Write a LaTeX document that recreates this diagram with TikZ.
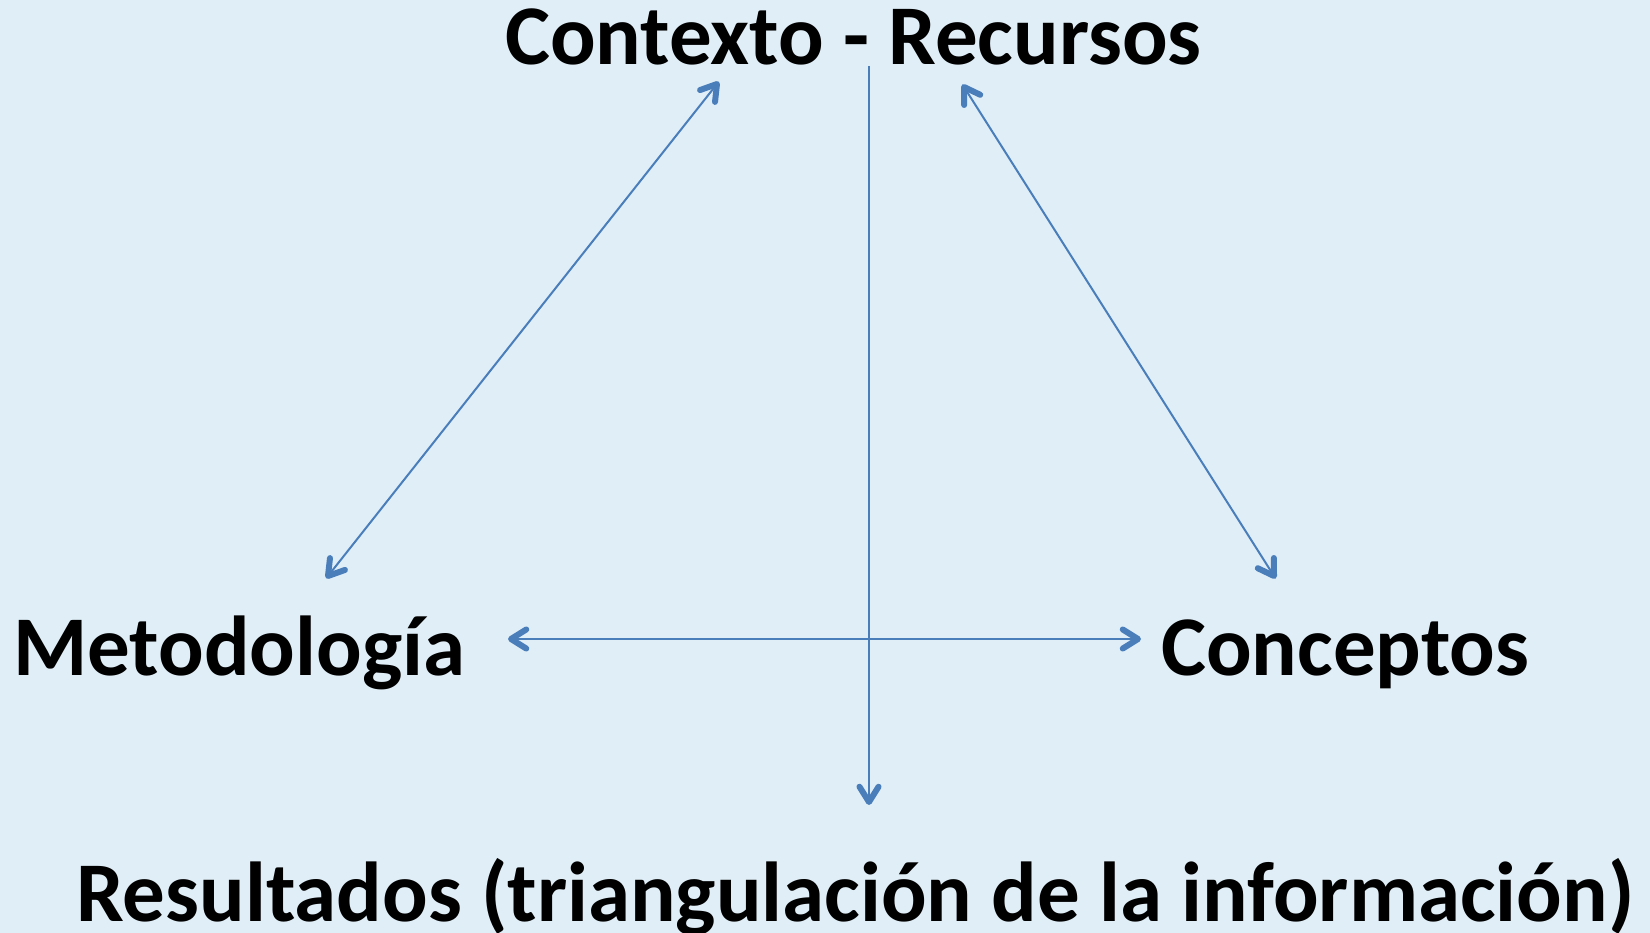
\documentclass[tikz,border=0pt]{standalone}
\usepackage{fontspec}
\setmainfont{Carlito}
\usetikzlibrary{calc}
\definecolor{bgblue}{RGB}{224,238,247}
\definecolor{linkblue}{RGB}{74,126,187}
\newcommand\barbhead[2]{\draw[headstroke] ($(#1)!18pt!32:(#2)$) -- (#1) -- ($(#1)!18pt!-32:(#2)$);}
\begin{document}
\begin{tikzpicture}[x=1pt,y=-1pt,
  lbl/.style={anchor=base west,inner sep=0pt,font=\fontsize{85}{100}\selectfont\bfseries},
  link/.style={draw=linkblue,line width=2pt},
  headstroke/.style={draw=linkblue,line width=6pt,line cap=round,line join=round}]
\fill[bgblue] (0,0) rectangle (1650,933);
\useasboundingbox (0,0) rectangle (1650,933);
\node[lbl] (ctx) at (505,65) {Contexto - Recursos};
\node[lbl] (met) at (13,675) {Metodología};
\node[lbl] (con) at (1161,675) {Conceptos};
\node[lbl] (res) at (76,921) {Resultados (triangulación de la información)};
\coordinate (vtop) at (869,66);
\coordinate (vbot) at (869,802);
\coordinate (lt) at (717,84);
\coordinate (lb) at (328,576);
\coordinate (rt) at (964,87);
\coordinate (rb) at (1274,576);
\coordinate (hl) at (511,639);
\coordinate (hr) at (1138,639);
\draw[link] (vtop) -- (vbot);
\draw[link] (lt) -- (lb);
\draw[link] (rt) -- (rb);
\draw[link] (hl) -- (hr);
\barbhead{vbot}{vtop}
\barbhead{lt}{lb}
\barbhead{lb}{lt}
\barbhead{rt}{rb}
\barbhead{rb}{rt}
\barbhead{hl}{hr}
\barbhead{hr}{hl}
\end{tikzpicture}
\end{document}
